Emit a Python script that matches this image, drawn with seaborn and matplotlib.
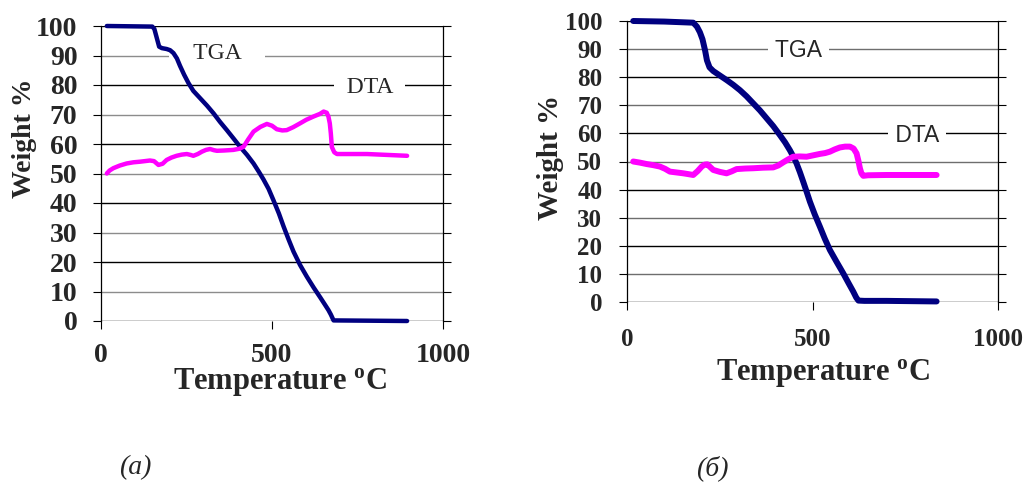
import matplotlib
matplotlib.use("Agg")
import matplotlib.pyplot as plt
import seaborn as sns
import pandas as pd

# ---- data ----
tga_a_T = [17, 150, 156, 163, 170, 178, 192, 202, 212, 222, 231, 243, 256, 270, 290, 310, 329, 348, 368, 388, 407, 427, 446, 462, 475, 490, 504, 520, 534, 549, 563, 582, 602, 622, 641, 655, 665, 672, 680, 895]
tga_a_W = [100, 99.8, 99, 96, 93, 92.5, 92.2, 91.8, 90.8, 89, 86.5, 83.5, 80.6, 78, 75.5, 73, 70.4, 67.5, 64.7, 61.8, 59, 56.3, 53.4, 50.5, 48, 44.8, 41, 36.5, 32, 27.5, 23.5, 19, 15, 11.3, 8, 5.5, 3.7, 2.2, 0.2, 0]
dta_a_T = [17, 25, 36, 55, 75, 95, 114, 143, 155, 168, 180, 192, 206, 221, 236, 251, 262, 270, 283, 295, 307, 319, 330, 339, 360, 387, 405, 417, 430, 446, 466, 485, 500, 514, 530, 543, 562, 582, 600, 621, 640, 651, 660, 665, 669, 672, 675, 682, 690, 778, 895]
dta_a_W = [50, 51, 51.8, 52.7, 53.4, 53.8, 54, 54.4, 54.2, 52.9, 53.3, 54.6, 55.4, 56, 56.4, 56.6, 56.3, 56, 56.6, 57.4, 58, 58.3, 57.9, 57.7, 57.8, 58, 58.4, 59.1, 61.5, 64.2, 65.8, 66.8, 66.2, 65, 64.6, 64.7, 65.7, 67, 68.2, 69.3, 70.2, 71, 70.6, 69.3, 67, 63.6, 59, 57.2, 56.6, 56.6, 56]

tga_b_T = [16, 100, 178, 188, 196, 203, 210, 215, 222, 232, 250, 268, 286, 304, 322, 340, 358, 376, 394, 412, 426, 439, 448, 457, 466, 475, 484, 493, 506, 520, 533, 547, 565, 583, 597, 610, 618, 624, 640, 700, 835]
tga_b_W = [100, 99.8, 99.4, 98, 96, 93.5, 89.5, 86, 83.5, 82.2, 80.6, 79, 77.3, 75.4, 73.2, 70.7, 68.2, 65.4, 62.6, 59.4, 56.8, 54, 51.8, 49.3, 46.2, 42.8, 39.3, 35.7, 31.2, 26.8, 22.6, 18.5, 14.3, 10.2, 6.8, 3.7, 1.6, 0.5, 0.4, 0.4, 0.2]
dta_b_T = [16, 34, 52, 70, 88, 102, 115, 133, 151, 165, 178, 190, 201, 209, 216, 224, 232, 250, 268, 282, 295, 318, 340, 367, 394, 408, 421, 435, 448, 466, 484, 502, 520, 534, 547, 560, 574, 588, 601, 611, 619, 624, 628, 632, 637, 650, 700, 835]
dta_b_W = [50, 49.6, 49.1, 48.7, 48.2, 47.4, 46.4, 46.1, 45.8, 45.5, 45.2, 46.6, 48.2, 48.9, 49, 48, 47, 46.3, 45.8, 46.5, 47.3, 47.5, 47.6, 47.8, 47.9, 48.6, 49.7, 50.8, 51.7, 51.8, 51.7, 52.2, 52.7, 53, 53.5, 54.3, 55, 55.3, 55.3, 54.6, 52.9, 50.2, 47.6, 45.8, 44.9, 45.1, 45.2, 45.2]

y_ticks = list(range(0, 101, 10))
x_ticks = [0, 500, 1000]
captions = ["(a)", "(б)"]

sns.set_style("white")
plt.rcParams["font.family"] = ["Liberation Serif", "DejaVu Serif"]
plt.rcParams["mathtext.fontset"] = "custom"
plt.rcParams["mathtext.rm"] = "Liberation Serif:bold"
plt.rcParams["mathtext.bf"] = "Liberation Serif:bold"
plt.rcParams["mathtext.it"] = "Liberation Serif:bold"

NAVY = "#000080"
MAG = "#FF00FF"

fig = plt.figure(figsize=(10.29, 4.82), dpi=100)
ax_a = fig.add_axes([101 / 1029, 1 - 321 / 482, 342 / 1029, 295 / 482])
ax_b = fig.add_axes([627.3 / 1029, 1 - 302 / 482, 370.4 / 1029, 281 / 482])

grid_a = ["black" if v % 20 == 0 else "#8c8c8c" for v in y_ticks]
grid_b = ["black" if v % 20 == 0 else "#6e6e6e" for v in y_ticks]

df = {
    "a_tga": pd.DataFrame({"T": tga_a_T, "W": tga_a_W}),
    "a_dta": pd.DataFrame({"T": dta_a_T, "W": dta_a_W}),
    "b_tga": pd.DataFrame({"T": tga_b_T, "W": tga_b_W}),
    "b_dta": pd.DataFrame({"T": dta_b_T, "W": dta_b_W}),
}
for key, ax, col, lw in [("a_tga", ax_a, NAVY, 3.2), ("a_dta", ax_a, MAG, 3.2),
                         ("b_tga", ax_b, NAVY, 4.3), ("b_dta", ax_b, MAG, 4.3)]:
    sns.lineplot(data=df[key], x="T", y="W", ax=ax, color=col, lw=lw, sort=False,
                 estimator=None, zorder=4, clip_on=False, solid_capstyle="round",
                 solid_joinstyle="round")


def style_axis(ax, tick_fs, ypad, xpad, lab_fs_y, lab_fs_x, ylab_xy, xlab_xy, grid_colors):
    ax.set_xlim(0, 1000)
    ax.set_ylim(0, 100)
    ax.set_yticks(y_ticks)
    ax.set_xticks(x_ticks)
    ax.set_yticklabels([str(v) for v in y_ticks], fontsize=tick_fs, fontweight="bold")
    ax.set_xticklabels([str(v) for v in x_ticks], fontsize=tick_fs, fontweight="bold")
    ax.tick_params(axis="y", left=True, right=True, direction="out", length=6,
                   width=0.8, pad=ypad, color="black")
    ax.tick_params(axis="x", bottom=True, direction="out", length=6, width=0.8,
                   pad=xpad, color="black")
    for v, c in zip(y_ticks, grid_colors):
        ax.axhline(v, color=c, lw=1.0, zorder=1)
    for s in ["top", "bottom"]:
        ax.spines[s].set_visible(False)
    for s in ["left", "right"]:
        ax.spines[s].set_visible(True)
        ax.spines[s].set_color("black")
        ax.spines[s].set_linewidth(0.9)
    ax.set_ylabel("Weight %", fontsize=lab_fs_y, fontweight="bold")
    ax.set_xlabel("Temperature $^{\\mathrm{o}}$C", fontsize=lab_fs_x, fontweight="bold")
    ax.yaxis.set_label_coords(*ylab_xy)
    ax.yaxis.label.set_va("center")
    ax.xaxis.set_label_coords(*xlab_xy)
    ax.xaxis.label.set_va("center")


style_axis(ax_a, 20, 11, 10, 20, 22, (-0.225, 0.62), (0.523, -0.207), grid_a)
style_axis(ax_b, 18, 12, 13, 21, 22, (-0.208, 0.516), (0.528, -0.252), grid_b)

box = dict(facecolor="white", edgecolor="none", boxstyle="square,pad=0.05")
ax_a.text(339, 90.6, "    TGA    ", fontsize=17, family="Liberation Serif",
          ha="center", va="center", bbox=box, zorder=2)
ax_a.text(784, 79.2, "  DTA  ", fontsize=17, family="Liberation Serif",
          ha="center", va="center", bbox=box, zorder=2)
ax_b.text(462, 89.6, " TGA ", fontsize=16.5, family="Liberation Sans",
          ha="center", va="center", bbox=box, zorder=2)
ax_b.text(782, 59.4, " DTA ", fontsize=16.5, family="Liberation Sans",
          ha="center", va="center", bbox=box, zorder=2)

fig.text(135 / 1029, 1 - 468 / 482, captions[0], fontsize=20, style="italic",
         ha="center", va="center")
fig.text(712 / 1029, 1 - 468 / 482, captions[1], fontsize=20, style="italic",
         ha="center", va="center")

fig.savefig("out.png", dpi=100, facecolor="white")
